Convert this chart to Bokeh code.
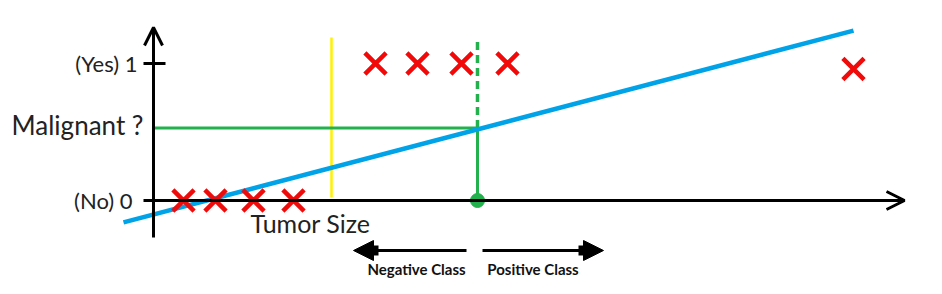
from bokeh.plotting import figure
from bokeh.models import Range1d, Arrow, OpenHead, NormalHead, Label
from bokeh.embed import file_html
from bokeh.resources import INLINE

# --- data -----------------------------------------------------------------
# tumour sizes (arbitrary units) and the label (0 = benign, 1 = malignant)
benign_size = [0.75, 1.55, 2.5, 3.5]
benign_label = [0, 0, 0, 0]
malignant_size = [5.55, 6.6, 7.7, 8.85, 17.5]
malignant_label = [1, 1, 1, 1, 0.96]

# straight-line fit h(x) drawn across the samples
fit_x = [-0.75, 17.5]
fit_y = [-0.16, 1.24]

threshold_y = 0.53          # "Malignant ?" cut-off on h(x)
threshold_x = 8.1           # tumour size where the fit crosses the cut-off
earlier_boundary_x = 4.45   # boundary before the outlier was added

tick_values = [1, 0]
tick_labels = ["(Yes) 1", "(No) 0"]

# --- figure ---------------------------------------------------------------
PX_X = 1 / 40.0    # data units per screen pixel (x)
PX_Y = 1 / 137.0   # data units per screen pixel (y)

p = figure(width=942, height=294, output_backend="svg", toolbar_location=None,
           x_axis_location=None, y_axis_location=None, min_border=0,
           x_range=Range1d(-153 * PX_X, 789 * PX_X),
           y_range=Range1d(-94 * PX_Y, 200 * PX_Y))
p.outline_line_color = None
p.grid.grid_line_color = None
p.background_fill_color = "white"
p.border_fill_color = "white"

FONT = "Lato"
TEXT_COLOR = "#222222"
GREEN = "#22b14c"
RED = "#f00a0a"

# hand-drawn axes with open arrow heads
p.add_layout(Arrow(end=OpenHead(size=18, line_width=3, line_color="black"),
                   x_start=-10 * PX_X, y_start=0, x_end=751 * PX_X, y_end=0,
                   line_width=3, line_color="black"))
p.add_layout(Arrow(end=OpenHead(size=18, line_width=3, line_color="black"),
                   x_start=0, y_start=-37 * PX_Y, x_end=0, y_end=173 * PX_Y,
                   line_width=3, line_color="black"))
# tick at y = 1
p.segment(x0=[-10 * PX_X], y0=[1], x1=[12 * PX_X], y1=[1],
          line_width=3, line_color="black")

# yellow boundary
p.segment(x0=[earlier_boundary_x], y0=[3 * PX_Y], x1=[earlier_boundary_x], y1=[163 * PX_Y],
          line_width=2.5, line_color="#fff200")

# green cut-off lines
p.segment(x0=[0], y0=[threshold_y], x1=[threshold_x], y1=[threshold_y],
          line_width=3, line_color=GREEN)
p.segment(x0=[threshold_x], y0=[0], x1=[threshold_x], y1=[threshold_y],
          line_width=3, line_color=GREEN)
p.segment(x0=[threshold_x], y0=[threshold_y], x1=[threshold_x], y1=[163 * PX_Y],
          line_width=3.5, line_color=GREEN, line_dash="8 5")

# fitted line
p.line(fit_x, fit_y, line_width=4.5, line_color="#00a2e8")

# samples
p.scatter(benign_size, benign_label, marker="x", size=30,
          line_width=4.5, line_color=RED)
p.scatter(malignant_size, malignant_label, marker="x", size=30,
          line_width=4.5, line_color=RED)

# decision point on the x axis
p.scatter([threshold_x], [0], marker="circle", size=14,
          fill_color=GREEN, line_color=GREEN)

# tick labels and axis titles
for v, t, off in zip(tick_values, tick_labels, [-16, -21]):
    p.add_layout(Label(x=0, y=v, x_offset=off, text=t, text_align="right",
                       text_baseline="middle", text_font=FONT,
                       text_font_size="22px", text_color=TEXT_COLOR))
p.add_layout(Label(x=-10 * PX_X, y=threshold_y + 3 * PX_Y, text="Malignant ?",
                   text_align="right", text_baseline="middle", text_font=FONT,
                   text_font_size="26px", text_color=TEXT_COLOR))
p.add_layout(Label(x=97 * PX_X, y=-22 * PX_Y, text="Tumor Size",
                   text_align="left", text_baseline="middle", text_font=FONT,
                   text_font_size="25px", text_color=TEXT_COLOR))

# class direction arrows below the axis
arrow_y = -50 * PX_Y
neg_start, neg_tip = threshold_x - 11 * PX_X, threshold_x - 124 * PX_X
pos_start, pos_tip = threshold_x + 5 * PX_X, threshold_x + 126 * PX_X
for start, tip, sgn in [(neg_start, neg_tip, -1), (pos_start, pos_tip, 1)]:
    p.add_layout(Arrow(end=NormalHead(size=20, fill_color="black", line_color="black"),
                       x_start=start, y_start=arrow_y, x_end=tip, y_end=arrow_y,
                       line_width=3, line_color="black"))
    p.segment(x0=[tip - sgn * 12 * PX_X], y0=[arrow_y],
              x1=[tip - sgn * 25 * PX_X], y1=[arrow_y],
              line_width=10, line_color="black", line_cap="butt")

for cx, t in [(threshold_x - 61 * PX_X, "Negative Class"),
              (threshold_x + 55.5 * PX_X, "Positive Class")]:
    p.add_layout(Label(x=cx, y=-68 * PX_Y, text=t, text_align="center",
                       text_baseline="middle", text_font=FONT,
                       text_font_style="bold", text_font_size="15px",
                       text_color="#111111"))

open("out.html", "w").write(file_html(p, INLINE))
